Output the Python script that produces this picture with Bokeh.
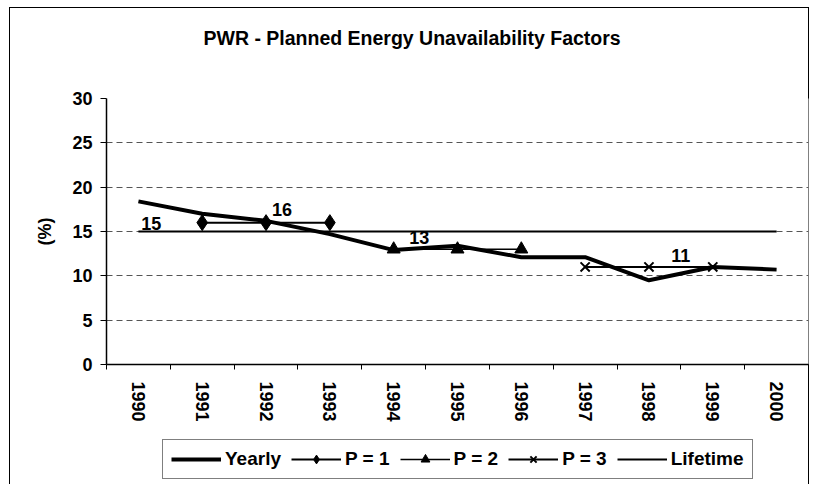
from bokeh.plotting import figure
from bokeh.models import (FixedTicker, Legend, LegendItem, ColumnDataSource, Range1d, Title)
from bokeh.layouts import column
from bokeh.core.properties import value
from bokeh.embed import file_html
from bokeh.resources import INLINE

years = ["1990", "1991", "1992", "1993", "1994", "1995", "1996", "1997", "1998", "1999", "2000"]
yearly = [18.4, 17.0, 16.2, 14.7, 12.9, 13.4, 12.1, 12.1, 9.5, 11.0, 10.7]
p1_years = ["1991", "1992", "1993"]
p1_vals = [16, 16, 16]
p2_years = ["1994", "1995", "1996"]
p2_vals = [13, 13, 13]
p3_years = ["1997", "1998", "1999"]
p3_vals = [11, 11, 11]
life_years = ["1990", "2000"]
life_vals = [15, 15]
label_texts = ["15", "16", "13", "11"]
label_years = [1990.2, 1992.25, 1994.4, 1998.5]
label_vals = [15.9, 17.5, 14.35, 12.3]
y_ticks = [0, 5, 10, 15, 20, 25, 30]
legend_labels = ["Yearly", "P = 1", "P = 2", "P = 3", "Lifetime"]

FONT = "Liberation Sans"
idx = {y: i for i, y in enumerate(years)}

BORDER_TOP = {
    "background-color": "white",
    "background-image": "linear-gradient(#000,#000), linear-gradient(#000,#000), linear-gradient(#000,#000)",
    "background-size": "1px 480px, 800px 1px, 1px 480px",
    "background-position": "9px 7px, 9px 7px, 808px 7px",
    "background-repeat": "no-repeat",
}
BORDER_SIDES = {
    "background-color": "white",
    "background-image": "linear-gradient(#000,#000), linear-gradient(#000,#000)",
    "background-size": "1px 100%, 1px 100%",
    "background-position": "9px 0px, 808px 0px",
    "background-repeat": "no-repeat",
}

p = figure(width=810, height=430, output_backend="svg", toolbar_location=None,
           x_range=Range1d(-0.5, len(years) - 0.5), y_range=Range1d(0, 30),
           min_border_left=106, min_border_right=2, min_border_top=98, min_border_bottom=66)
p.title = Title(text="PWR - Planned Energy Unavailability Factors", align="left",
                offset=97, standoff=10,
                text_font=FONT, text_font_size="19.5px", text_font_style="bold", text_color="black")
# spacer between the title and the plot area
p.add_layout(Title(text=" ", text_font_size="19px", standoff=22), "above")
p.outline_line_color = None
p.background_fill_color = "white"
p.border_fill_color = None
p.styles = BORDER_TOP

# axes
p.xaxis.ticker = FixedTicker(ticks=list(range(len(years))),
                             minor_ticks=[i - 0.5 for i in range(len(years) + 1)])
p.xaxis.major_label_overrides = {i: y for i, y in enumerate(years)}
p.xaxis.major_label_orientation = "vertical"
p.xaxis.major_tick_line_color = None
p.xaxis.major_tick_out = 0
p.xaxis.major_tick_in = 0
p.xaxis.minor_tick_out = 5
p.xaxis.minor_tick_in = 0
p.xaxis.minor_tick_line_color = "black"
p.xaxis.axis_line_color = "black"
p.xaxis.axis_line_width = 1.5
p.xaxis.major_label_standoff = 12
p.xaxis.major_label_text_font = FONT
p.xaxis.major_label_text_font_size = "18px"
p.xaxis.major_label_text_font_style = "bold"
p.xaxis.major_label_text_color = "black"

p.yaxis.ticker = FixedTicker(ticks=y_ticks, minor_ticks=[])
p.yaxis.major_tick_out = 6
p.yaxis.major_tick_in = 0
p.yaxis.major_tick_line_color = "black"
p.yaxis.axis_line_color = "black"
p.yaxis.axis_line_width = 1.5
p.yaxis.major_label_standoff = 8
p.yaxis.major_label_text_font = FONT
p.yaxis.major_label_text_font_size = "18px"
p.yaxis.major_label_text_font_style = "bold"
p.yaxis.major_label_text_color = "black"
p.yaxis.axis_label = "(%)"
p.yaxis.axis_label_text_font = FONT
p.yaxis.axis_label_text_font_size = "18px"
p.yaxis.axis_label_text_font_style = "bold"
p.yaxis.axis_label_text_color = "black"
p.yaxis.axis_label_standoff = 14

p.xgrid.grid_line_color = None
p.ygrid.grid_line_color = "#555555"
p.ygrid.grid_line_dash = "6 4"
p.ygrid.grid_line_width = 1

# styles shared by the plot and the legend
S_YEARLY = dict(line_color="black", line_width=4)
S_P1L = dict(line_color="black", line_width=2)
S_P1M = dict(marker="diamond", size=16, fill_color="black", line_color="black")
S_P2L = dict(line_color="black", line_width=1.5)
S_P2M = dict(marker="triangle", size=13, fill_color="black", line_color="black")
S_P3L = dict(line_color="black", line_width=2)
S_P3M = dict(marker="x", size=13, line_color="black", line_width=2)
S_LIFE = dict(line_color="black", line_width=2)

xs = [idx[y] for y in years]
x1 = [idx[y] for y in p1_years]
x2 = [idx[y] for y in p2_years]
x3 = [idx[y] for y in p3_years]
xl = [idx[y] for y in life_years]


def draw(fig):
    r = {}
    r["yearly"] = fig.line(xs, yearly, **S_YEARLY)
    r["p1l"] = fig.line(x1, p1_vals, **S_P1L)
    r["p1m"] = fig.scatter(x1, p1_vals, **S_P1M)
    r["p2l"] = fig.line(x2, p2_vals, **S_P2L)
    r["p2m"] = fig.scatter(x2, p2_vals, **S_P2M)
    r["p3l"] = fig.line(x3, p3_vals, **S_P3L)
    r["p3m"] = fig.scatter(x3, p3_vals, **S_P3M)
    r["life"] = fig.line(xl, life_vals, **S_LIFE)
    return r


draw(p)

lab_src = ColumnDataSource(dict(x=[v - 1990 for v in label_years], y=label_vals, t=label_texts))
p.text(x="x", y="y", text="t", source=lab_src, text_align="center", text_baseline="middle",
       text_font=value(FONT), text_font_size="18px", text_font_style="bold", text_color="black")

# legend strip below the chart (its series lie outside its view, only the legend shows)
q = figure(width=810, height=54, output_backend="svg", toolbar_location=None,
           x_range=Range1d(100, 101), y_range=Range1d(100, 101), x_axis_type=None, y_axis_type=None,
           min_border=0)
q.outline_line_color = None
q.grid.visible = False
q.background_fill_color = None
q.border_fill_color = None
q.styles = BORDER_SIDES
lr = draw(q)

legend = Legend(items=[
    LegendItem(label=legend_labels[0], renderers=[lr["yearly"]]),
    LegendItem(label=legend_labels[1], renderers=[lr["p1l"], lr["p1m"]]),
    LegendItem(label=legend_labels[2], renderers=[lr["p2l"], lr["p2m"]]),
    LegendItem(label=legend_labels[3], renderers=[lr["p3l"], lr["p3m"]]),
    LegendItem(label=legend_labels[4], renderers=[lr["life"]]),
], orientation="horizontal", location=(56, 5))
legend.label_text_font = FONT
legend.label_text_font_size = "19px"
legend.label_text_font_style = "bold"
legend.label_text_color = "black"
legend.border_line_color = "black"
legend.border_line_width = 1
legend.glyph_width = 50
legend.glyph_height = 22
legend.label_standoff = 4
legend.spacing = 10
legend.padding = 8
legend.margin = 0
legend.background_fill_color = "white"
legend.background_fill_alpha = 1
q.add_layout(legend)

layout = column(p, q, spacing=0)
open("out.html", "w").write(file_html(layout, INLINE))
